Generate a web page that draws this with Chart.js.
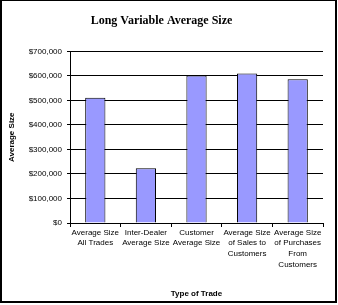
<!DOCTYPE html>
<html>
<head>
<meta charset="utf-8">
<script src="https://cdn.jsdelivr.net/npm/chart.js@4/dist/chart.umd.min.js"></script>
<style>
html,body{margin:0;padding:0;background:#fff;}
#wrap{width:338px;height:305px;position:relative;}
</style>
</head>
<body>
<div id="wrap"><canvas id="c" width="338" height="305"></canvas></div>
<script>
const categories = [
  ["Average Size", "All Trades"],
  ["Inter-Dealer", "Average Size"],
  ["Customer", "Average Size"],
  ["Average Size", "of Sales to", "Customers"],
  ["Average Size", "of Purchases", "From", "Customers"]
];
const averageSize = [511000, 223000, 602000, 610000, 586000];
const yTicks = [0, 100000, 200000, 300000, 400000, 500000, 600000, 700000];

const framePlugin = {
  id: 'frame',
  beforeDraw(chart) {
    const ctx = chart.ctx;
    ctx.save();
    ctx.fillStyle = '#fff';
    ctx.fillRect(0, 0, chart.width, chart.height);
    ctx.restore();
  },
  afterDraw(chart) {
    const ctx = chart.ctx;
    ctx.save();
    ctx.fillStyle = '#000';
    ctx.fillRect(0, 0, 2, 303);
    ctx.fillRect(0, 0, 337, 1);
    ctx.fillRect(335, 0, 2, 303);
    ctx.fillRect(0, 301, 337, 2);
    ctx.restore();
  }
};

const tickFont = { family: 'Liberation Sans', size: 8, lineHeight: 1.35 };
const titleFont = { family: 'Liberation Sans', size: 8, weight: 'bold' };

new Chart(document.getElementById('c'), {
  type: 'bar',
  data: {
    labels: categories,
    datasets: [{
      label: 'Average Size',
      data: averageSize,
      backgroundColor: '#9999FF',
      borderColor: '#000',
      borderWidth: 1,
      barPercentage: 0.4,
      categoryPercentage: 1
    }]
  },
  options: {
    responsive: false,
    animation: false,
    devicePixelRatio: 1,
    layout: { padding: { left: 0, right: 15, top: 0, bottom: 0 } },
    plugins: {
      legend: { display: false },
      tooltip: { enabled: false },
      title: {
        display: true,
        text: 'Long Variable Average Size',
        color: '#000',
        font: { family: 'Liberation Serif', size: 12, weight: 'bold' },
        padding: { top: 14, bottom: 23 }
      }
    },
    scales: {
      x: {
        offset: true,
        grid: { display: true, drawOnChartArea: false, color: '#000', tickLength: 4, offset: true },
        border: { display: true, color: '#000', width: 1 },
        ticks: { color: '#000', font: tickFont, autoSkip: false, maxRotation: 0, minRotation: 0, padding: 0 },
        title: { display: true, text: 'Type of Trade', color: '#000', font: titleFont, padding: { top: 4, bottom: 6 } },
        afterFit(scale) { scale.height = 82; }
      },
      y: {
        min: 0,
        max: 700000,
        afterBuildTicks(scale) { scale.ticks = yTicks.map(v => ({ value: v })); },
        grid: { color: '#000', lineWidth: 1, tickLength: 3 },
        border: { display: true, color: '#000', width: 1 },
        ticks: {
          color: '#000',
          font: { family: 'Liberation Sans', size: 8 },
          padding: 5,
          callback: v => '$' + Number(v).toLocaleString('en-US')
        },
        title: { display: true, text: 'Average Size', color: '#000', font: titleFont, padding: { top: 7, bottom: 0 } },
        afterFit(scale) { scale.width = 70; }
      }
    }
  },
  plugins: [framePlugin]
});
</script>
</body>
</html>
